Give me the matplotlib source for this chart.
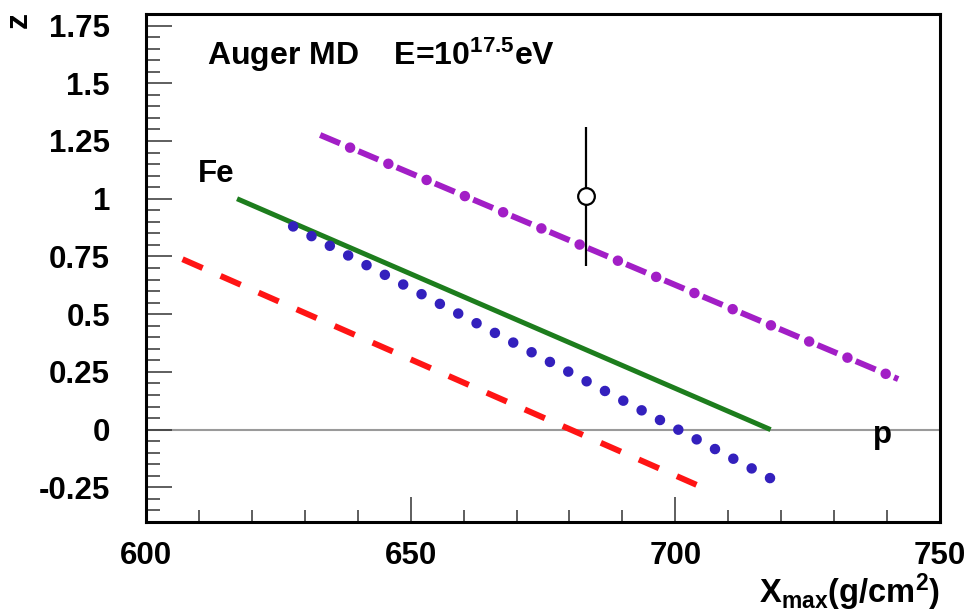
import matplotlib
matplotlib.use("Agg")
import matplotlib.pyplot as plt
from matplotlib.ticker import MultipleLocator

plt.rcParams["font.family"] = ["Liberation Sans", "DejaVu Sans"]
plt.rcParams["font.weight"] = "bold"
plt.rcParams["mathtext.fontset"] = "custom"
plt.rcParams["mathtext.rm"] = "Liberation Sans:bold"
plt.rcParams["mathtext.it"] = "Liberation Sans:bold"
plt.rcParams["mathtext.bf"] = "Liberation Sans:bold"
plt.rcParams["lines.scale_dashes"] = False

# Model predictions of z versus Xmax (endpoints of each line)
fe_x = [617.2, 718.0]
fe_z = [1.00, 0.00]
blue_x = [627.8, 717.9]
blue_z = [0.880, -0.210]
red_x = [606.9, 704.0]
red_z = [0.738, -0.239]
violet_x = [632.9, 742.1]
violet_z = [1.276, 0.219]

# Auger MD measurement
data_x = [683.2]
data_z = [1.01]
data_err = [0.30]

fig = plt.figure(figsize=(9.69, 6.15), dpi=100)
ax = fig.add_axes([146 / 969, 93 / 615, 794 / 969, 508 / 615])
ax.set_xlim(600, 750)
ax.set_ylim(-0.4, 1.8)

# zero reference line
ax.axhline(0, color="#9a9a9a", lw=1.5, zorder=1)

# Fe: solid green
ax.plot(fe_x, fe_z, color="#1d7d1d", lw=3.6, solid_capstyle="butt", zorder=3)
# dotted blue
ax.plot(blue_x, blue_z, color="#3320bd", lw=7.6, dash_capstyle="round",
        linestyle=(0, (0.001, 14.93)), zorder=4)
# dashed red
ax.plot(red_x, red_z, color="#ff1414", lw=4.3, dash_capstyle="butt",
        linestyle=(0, (15.8, 14.1)), zorder=3)
# dash-dot violet: dashes plus larger dots
ax.plot(violet_x, violet_z, color="#a21ec6", lw=4.3, dash_capstyle="butt",
        linestyle=(0, (15.5, 14.4)), zorder=3)
ax.plot(violet_x, violet_z, color="#a21ec6", lw=7.6, dash_capstyle="round",
        linestyle=(6.5, (0.001, 29.899)), zorder=3)

# measurement with error bar
ax.errorbar(data_x, data_z, yerr=data_err, fmt="o", mfc="white", mec="black",
            ms=12, mew=1.6, ecolor="black", elinewidth=1.6, capsize=0, zorder=5)

# axes styling
for s in ax.spines.values():
    s.set_linewidth(2.2)
ax.xaxis.set_major_locator(MultipleLocator(50))
ax.xaxis.set_minor_locator(MultipleLocator(10))
ax.yaxis.set_major_locator(MultipleLocator(0.25))
ax.yaxis.set_minor_locator(MultipleLocator(0.05))
ax.tick_params(axis="both", which="both", direction="in", color="#333333",
               width=1.1, top=False, right=False, labelsize=22.5)
ax.tick_params(axis="y", which="major", length=19, pad=26)
ax.tick_params(axis="y", which="minor", length=10)
ax.tick_params(axis="x", which="major", length=18, pad=14)
ax.tick_params(axis="x", which="minor", length=9)
ax.set_yticks([-0.25, 0, 0.25, 0.5, 0.75, 1, 1.25, 1.5, 1.75])
ax.set_yticklabels(["-0.25", "0", "0.25", "0.5", "0.75", "1", "1.25", "1.5", "1.75"])
ax.set_xticks([600, 650, 700, 750])
ax.set_xticklabels(["600", "650", "700", "750"])
for lab in ax.get_xticklabels() + ax.get_yticklabels():
    lab.set_fontweight("bold")

# annotations
ax.text(611.5, 1.579, "Auger MD    E=10$^{17.5}$eV", fontsize=23, fontweight="bold",
        ha="left", va="baseline")
ax.text(609.8, 1.072, "Fe", fontsize=22.5, fontweight="bold", ha="left", va="baseline")
ax.text(739.1, -0.059, "p", fontsize=22.5, fontweight="bold", ha="center", va="baseline")

# axis titles
fig.text(940 / 969, 1 - 603 / 615, "X$_{max}$(g/cm$^{2}$)", fontsize=23.5,
         fontweight="bold", ha="right", va="baseline")
fig.text(19 / 969, 1 - 12 / 615, "z", fontsize=23, fontweight="bold", rotation=90,
         ha="center", va="top")

fig.savefig("out.png", dpi=100)
